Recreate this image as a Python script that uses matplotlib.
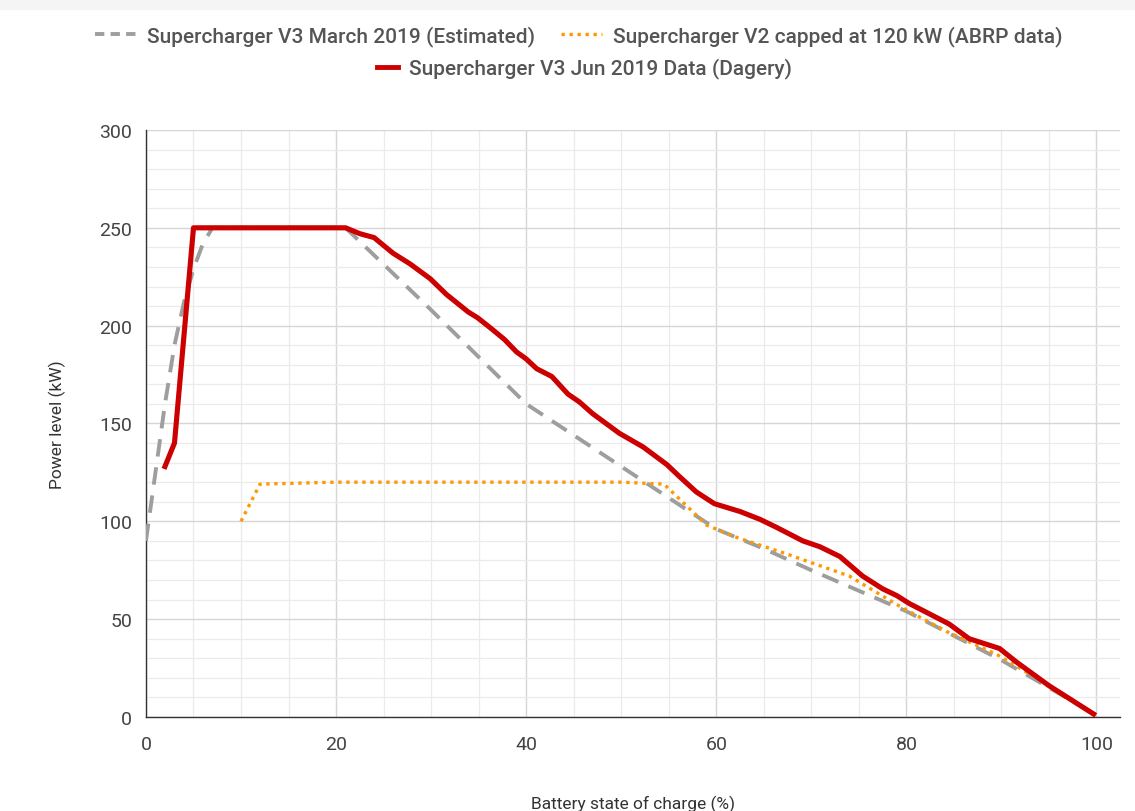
import matplotlib.pyplot as plt
from matplotlib.lines import Line2D
from matplotlib.patches import Rectangle
from matplotlib.ticker import MultipleLocator

plt.rcParams['font.family'] = ['Roboto', 'DejaVu Sans']

# Supercharger V3 March 2019 (Estimated)
est_soc = [0, 1, 2, 3, 4, 5, 6, 7, 21, 30, 40, 50, 60, 65, 70, 80, 90, 100]
est_kw = [90, 125, 160, 190, 212, 229, 242, 250, 250, 208, 160, 128, 96, 86, 75, 54, 29, 1]

# Supercharger V2 capped at 120 kW (ABRP data)
v2_soc = [10, 12, 20, 30, 40, 50, 54.5, 59, 62, 67, 74, 79.5, 84.5, 89.5, 95, 100]
v2_kw = [100, 119, 120, 120, 120, 120, 119, 98, 92, 84, 72, 56, 43, 32, 16, 1]

# Supercharger V3 Jun 2019 Data (Dagery)
v3_soc = [2, 3, 5, 21, 22.5, 24, 26, 27.8, 29.9, 31.6, 33.9, 34.9, 36.2, 37.7, 39, 40,
          41.1, 42.7, 44.4, 45.6, 47, 49.8, 52.3, 54.8, 56.1, 57.9, 59.8, 62.5, 64.6,
          66.3, 67.7, 69.1, 70.9, 73, 75.4, 77.5, 79, 80.3, 84.5, 86.6, 89.8, 91.6, 95, 99.7]
v3_kw = [128, 140, 250, 250, 247, 245, 237, 231.5, 224, 216, 207, 204, 199, 193, 186.5, 183,
         178, 174, 165, 161, 155, 145, 138, 129, 123, 115, 109, 105, 101,
         97, 93.5, 90, 87, 82, 72, 65.5, 62, 58, 47.5, 40, 35, 28, 16, 1.5]

fig = plt.figure(figsize=(11.35, 8.12), dpi=100)
fig.patches.append(Rectangle((0, 0.988), 1, 0.012, transform=fig.transFigure,
                             color='#f5f5f5', zorder=0))
ax = fig.add_axes([0.1286, 0.1158, 0.8584, 0.7229])

ax.plot(est_soc, est_kw, color='#9e9e9e', lw=2.8, ls=(0, (4.5, 2.8)), zorder=3)
ax.plot(v2_soc, v2_kw, color='#ff9900', lw=2.4, ls=(0, (1, 1.4)), zorder=4)
ax.plot(v3_soc, v3_kw, color='#cc0000', lw=3.7, solid_joinstyle='round', zorder=5)

ax.set_xlim(0, 102.5)
ax.set_ylim(0, 300)
ax.xaxis.set_major_locator(MultipleLocator(20))
ax.xaxis.set_minor_locator(MultipleLocator(5))
ax.yaxis.set_major_locator(MultipleLocator(50))
ax.yaxis.set_minor_locator(MultipleLocator(10))
ax.grid(which='major', color='#d6d6d6', lw=1.0)
ax.grid(which='minor', color='#ebebeb', lw=0.9)
ax.set_axisbelow(True)
ax.tick_params(which='both', length=0, labelsize=14, labelcolor='#444444')
ax.tick_params(axis='x', pad=13)
ax.tick_params(axis='y', pad=10)

for s in ['top', 'right']:
    ax.spines[s].set_visible(False)
for s in ['left', 'bottom']:
    ax.spines[s].set_color('#333333')
    ax.spines[s].set_linewidth(1.0)

ax.set_xlabel('Battery state of charge (%)', fontsize=12.5, color='#333333', labelpad=30)
ax.set_ylabel('Power level (kW)', fontsize=12.5, color='#333333', labelpad=24)

h1 = [Line2D([], [], color='#9e9e9e', lw=2.8, ls=(0, (2.4, 1.6))),
      Line2D([], [], color='#ff9900', lw=2.4, ls=(0, (1, 1.4)))]
l1 = ['Supercharger V3 March 2019 (Estimated)', 'Supercharger V2 capped at 120 kW (ABRP data)']
fig.legend(h1, l1, loc='center', bbox_to_anchor=(0.51, 0.955), ncol=2, frameon=False,
           handlelength=2.0, handletextpad=0.5, columnspacing=1.2,
           prop={'size': 15, 'weight': 'medium'}, labelcolor='#555555')
h2 = [Line2D([], [], color='#cc0000', lw=3.5)]
fig.legend(h2, ['Supercharger V3 Jun 2019 Data (Dagery)'], loc='center',
           bbox_to_anchor=(0.515, 0.915), frameon=False, handlelength=1.0, handletextpad=0.5,
           prop={'size': 15, 'weight': 'medium'}, labelcolor='#555555')

fig.savefig('out.png', dpi=100, facecolor='white')
